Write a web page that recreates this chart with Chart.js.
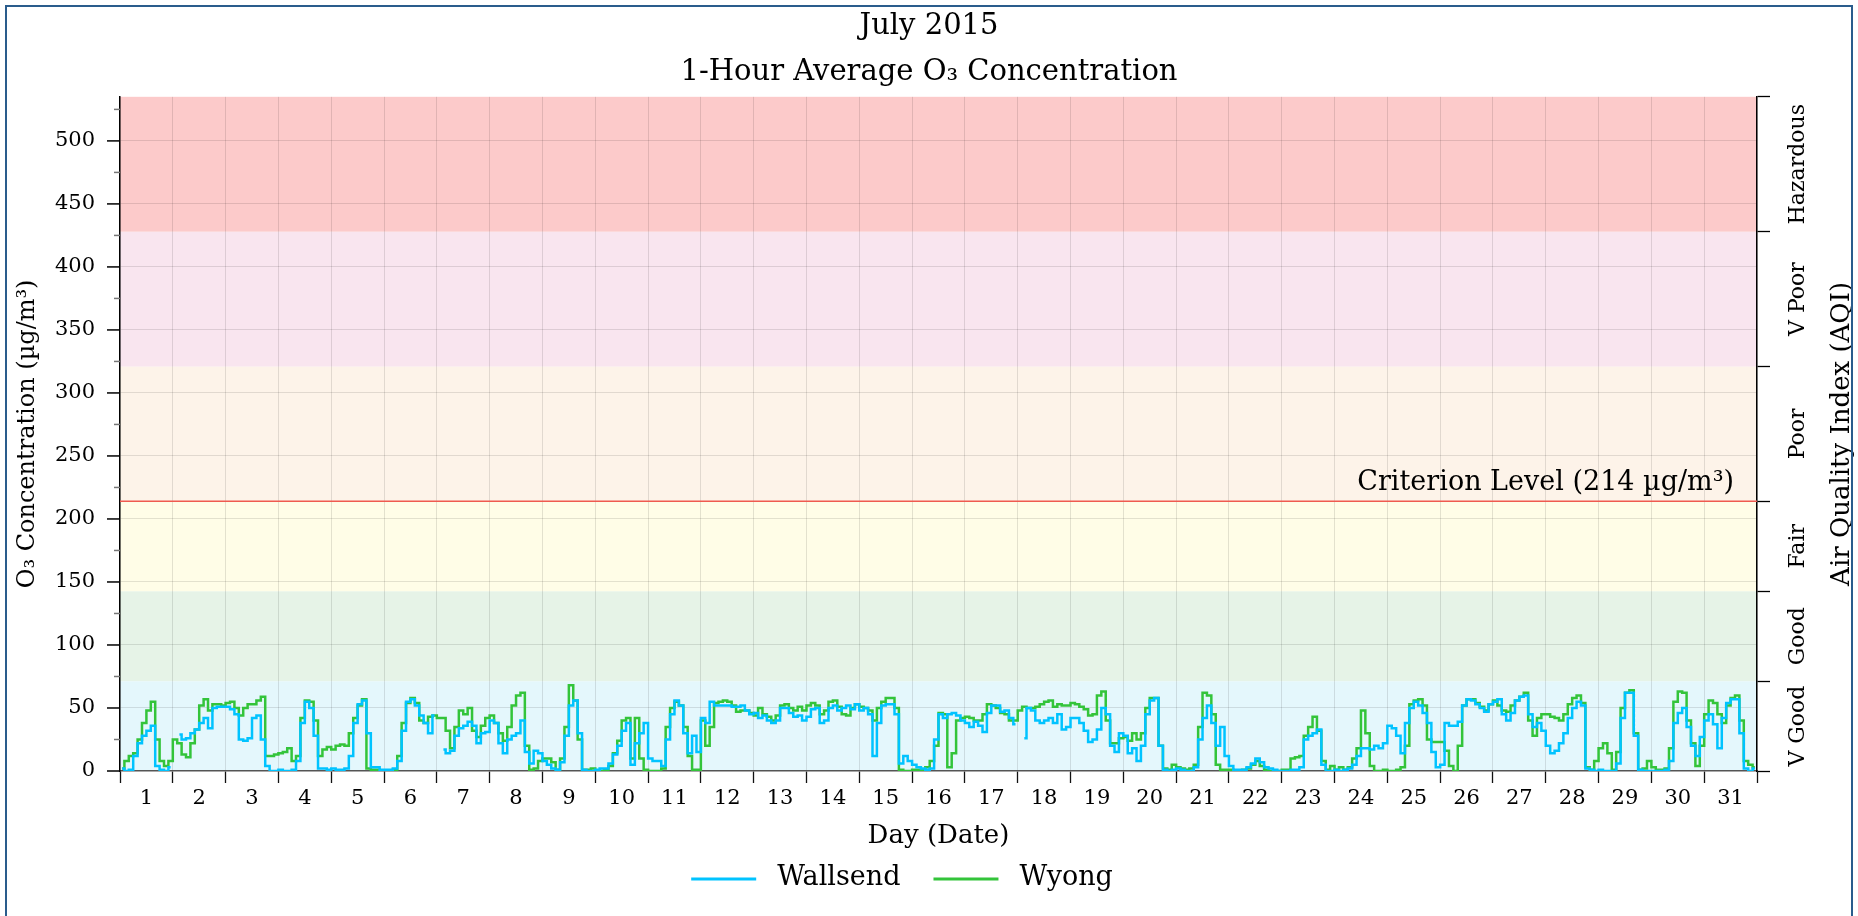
<!DOCTYPE html>
<html>
<head>
<meta charset="utf-8">
<title>July 2015 - 1-Hour Average O3 Concentration</title>
<script src="https://cdn.jsdelivr.net/npm/chart.js@4.4.1/dist/chart.umd.min.js"></script>
<style>
  html, body { margin: 0; padding: 0; background: #fff; overflow: hidden; }
  #wrap { position: relative; width: 1858px; height: 916px; }
  #frame { position: absolute; left: 5px; top: 5px; width: 1848px; height: 940px;
           border: 2px solid #2a5c8c; box-sizing: border-box; pointer-events: none; }
  canvas { display: block; }
</style>
</head>
<body>
<div id="wrap">
  <canvas id="o3Chart" width="1858" height="916"></canvas>
  <div id="frame"></div>
</div>
<script>
/* July 2015 — 1-hour average O3, Wallsend vs Wyong */

// x categories: day of month
const days = [1, 2, 3, 4, 5, 6, 7, 8, 9, 10, 11, 12, 13, 14, 15, 16,
              17, 18, 19, 20, 21, 22, 23, 24, 25, 26, 27, 28, 29, 30, 31];
const slotsPerDay = 12; // one reading per 2-hour block

// left axis ticks (labelled every 50, minor every 25)
const yTicks = [0, 25, 50, 75, 100, 125, 150, 175, 200, 225, 250, 275,
                300, 325, 350, 375, 400, 425, 450, 475, 500, 525];

// AQI bands (µg/m³) and their names
const aqiBounds = [0, 71.3, 142.7, 214, 321, 428, 535];
const aqiLabels = ['V Good', 'Good', 'Fair', 'Poor', 'V Poor', 'Hazardous'];
const criterion = 214;

// Wallsend, one row per day, 2-hour blocks
const wallsend = [
  2, 0, 1, 12, 22, 28, 32, 36, 4, 1, 0, 3,
  null, 29, 25, 26, 30, 33, 38, 42, 34, 50, 51, 51,
  51, 49, 45, 25, 24, 26, 42, 44, 25, 4, 0, 0,
  1, 0, 0, 1, 8, 38, 55, 50, 28, 2, 2, 1,
  2, 1, 1, 2, 12, 38, 53, 56, 30, 3, 3, 1,
  1, 1, 2, 8, 32, 55, 57, 52, 44, 38, 30, 44,
  null, 17, 14, 16, 28, 34, 36, 39, 36, 22, 30, 31,
  40, 38, 22, 14, 25, 28, 30, 40, 15, 6, 16, 14,
  8, 5, 2, 1, 7, 28, 52, 56, 30, 1, 0, 0,
  1, 2, 2, 6, 13, 20, 32, 38, 5, 22, 30, 38,
  10, 8, 8, 4, 25, 45, 56, 52, 30, 14, 28, 15,
  42, 38, 55, 52, 52, 52, 52, 51, 51, 52, 48, 45,
  46, 42, 44, 40, 38, 40, 50, 50, 46, 43, 44, 40,
  43, 49, 50, 38, 40, 50, 52, 48, 50, 52, 49, 53,
  48, 50, 45, 12, 38, 52, 53, 53, 45, 6, 12, 8,
  5, 3, 2, 1, 2, 25, 45, 42, 45, 46, 44, 40,
  38, 35, 39, 36, 31, 46, 52, 52, 47, 48, 42, 37,
  null, 26, 50, 48, 40, 38, 40, 42, 38, 45, 33, 35,
  42, 42, 38, 32, 23, 25, 33, 50, 45, 20, 15, 30,
  28, 14, 18, 8, 20, 45, 56, 58, 20, 1, 0, 1,
  2, 1, 0, 0, 3, 25, 42, 52, 38, 20, 35, 12,
  4, 1, 1, 1, 3, 6, 10, 7, 3, 2, 1, 0,
  0, 0, 1, 1, 3, 25, 28, 30, 33, 5, 0, 0,
  1, 0, 1, 2, 5, 12, 18, 18, 17, 20, 18, 22,
  36, 34, 28, 14, 38, 50, 55, 52, 46, 38, 15, 3,
  5, 38, 36, 36, 39, 52, 57, 56, 53, 50, 47, 53,
  55, 57, 45, 40, 46, 56, 59, 60, 45, 35, 38, 32,
  20, 14, 16, 22, 30, 42, 50, 55, 52, 2, 1, 0,
  1, 0, 0, 0, 6, 42, 62, 62, 28, 1, 0, 0,
  0, 0, 0, 1, 8, 38, 46, 50, 35, 20, 12, 27,
  40, 45, 37, 18, 42, 54, 57, 57, 30, 2, 0, 2
];

// Wyong, one row per day, 2-hour blocks
const wyong = [
  2, 8, 12, 14, 25, 38, 48, 55, 25, 8, 4, 8,
  25, 22, 13, 11, 22, 33, 52, 57, 48, 53, 53, 52,
  54, 55, 50, 44, 50, 53, 53, 56, 59, 12, 12, 13,
  14, 15, 18, 8, 12, 42, 56, 55, 40, 12, 17, 19,
  17, 20, 21, 20, 30, 42, 52, 57, 2, 1, 1, 0,
  0, 0, 1, 12, 38, 54, 58, 54, 40, 38, 43, 44,
  42, 42, 32, 18, 35, 48, 45, 50, 32, 27, 36, 42,
  44, 38, 30, 24, 35, 52, 60, 62, 20, 1, 2, 8,
  10, 10, 7, 1, 10, 35, 68, 56, 25, 1, 1, 2,
  0, 0, 1, 4, 14, 24, 40, 42, 10, 42, 10, 1,
  0, 0, 0, 2, 35, 50, 55, 52, 35, 12, 1, 1,
  40, 20, 35, 54, 55, 56, 55, 52, 47, 48, 48, 46,
  44, 50, 45, 43, 40, 44, 52, 53, 50, 48, 51, 48,
  52, 54, 52, 45, 48, 55, 56, 51, 45, 44, 50, 53,
  51, 50, 48, 40, 50, 55, 58, 58, 50, 1, 0, 0,
  1, 1, 1, 3, 8, 20, 46, 45, 3, 14, 40, 42,
  43, 42, 40, 40, 45, 53, 52, 50, 46, 45, 40, 40,
  48, 51, 50, 50, 51, 53, 55, 56, 51, 53, 52, 52,
  54, 53, 51, 49, 44, 45, 60, 63, 40, 22, 22, 26,
  27, 24, 30, 25, 30, 50, 58, 58, 20, 2, 1, 5,
  3, 2, 1, 2, 5, 35, 62, 60, 45, 5, 1, 1,
  1, 0, 0, 1, 2, 5, 8, 4, 1, 0, 0, 0,
  1, 1, 10, 11, 12, 28, 35, 43, 32, 8, 1, 4,
  1, 3, 1, 3, 10, 18, 48, 30, 4, 0, 0, 1,
  0, 0, 1, 3, 20, 53, 56, 57, 52, 25, 23, 23,
  23, 16, 4, 0, 20, 52, 57, 57, 54, 51, 48, 53,
  56, 52, 48, 47, 52, 56, 59, 62, 40, 28, 42, 45,
  45, 43, 42, 40, 45, 53, 58, 60, 54, 3, 1, 8,
  18, 22, 14, 1, 15, 50, 62, 64, 30, 1, 2, 8,
  3, 1, 1, 2, 18, 55, 63, 62, 40, 22, 4, 20,
  45, 56, 54, 45, 38, 52, 58, 60, 40, 8, 5, 3
];

(function () {
    const FONT = 'DejaVu Serif';
    const gridColor = 'rgba(0, 0, 0, 0.11)';
    const bandColors = ['#e4f7fc', '#e6f3e7', '#fffde7', '#fdf3e9', '#f9e5ef', '#fccaca'];

    Chart.defaults.font.family = FONT;
    Chart.defaults.color = '#000';

    // each block sits at the middle of its 2-hour slot
    function toPoints(values) {
        return values.map(function (v, i) {
            return { x: days[0] + (i + 0.5) / slotsPerDay, y: v };
        });
    }

    const aqiPlugin = {
        id: 'aqiDecor',
        beforeDraw: function (chart) {
            const ctx = chart.ctx;
            const a = chart.chartArea;
            const y = chart.scales.y;
            ctx.save();
            for (let i = 0; i < aqiLabels.length; i++) {
                const top = y.getPixelForValue(aqiBounds[i + 1]);
                const bottom = y.getPixelForValue(aqiBounds[i]);
                ctx.fillStyle = bandColors[i];
                ctx.fillRect(a.left, top, a.right - a.left, bottom - top);
            }
            ctx.restore();
        },
        beforeDatasetsDraw: function (chart) {
            const ctx = chart.ctx;
            const a = chart.chartArea;
            const yc = chart.scales.y.getPixelForValue(criterion);
            ctx.save();
            ctx.strokeStyle = '#ef5a4f';
            ctx.lineWidth = 1.5;
            ctx.beginPath();
            ctx.moveTo(a.left, yc);
            ctx.lineTo(a.right, yc);
            ctx.stroke();
            ctx.fillStyle = '#000';
            ctx.font = '27px "' + FONT + '"';
            ctx.textAlign = 'right';
            ctx.textBaseline = 'alphabetic';
            ctx.fillText('Criterion Level (214 µg/m³)', a.right - 23, yc - 11);
            ctx.restore();
        },
        afterDraw: function (chart) {
            const ctx = chart.ctx;
            const a = chart.chartArea;
            const y = chart.scales.y;
            ctx.save();

            // left axis tick marks, major and minor
            yTicks.forEach(function (v) {
                const py = y.getPixelForValue(v);
                const major = v % 50 === 0;
                ctx.strokeStyle = major ? '#000' : '#777';
                ctx.lineWidth = 1.5;
                ctx.beginPath();
                ctx.moveTo(a.left, py);
                ctx.lineTo(a.left - (major ? 13 : 6), py);
                ctx.stroke();
            });

            // AQI band names on the right
            ctx.fillStyle = '#000';
            ctx.font = '22px "' + FONT + '"';
            ctx.textAlign = 'center';
            ctx.textBaseline = 'middle';
            for (let i = 0; i < aqiLabels.length; i++) {
                const mid = y.getPixelForValue((aqiBounds[i] + aqiBounds[i + 1]) / 2);
                ctx.save();
                ctx.translate(a.right + 41, mid);
                ctx.rotate(-Math.PI / 2);
                ctx.fillText(aqiLabels[i], 0, 0);
                ctx.restore();
            }

            // right axis title
            ctx.font = '26px "' + FONT + '"';
            ctx.save();
            ctx.translate(a.right + 85, (a.top + a.bottom) / 2);
            ctx.rotate(-Math.PI / 2);
            ctx.fillText('Air Quality Index (AQI)', 0, 0);
            ctx.restore();

            // legend
            ctx.font = '27px "' + FONT + '"';
            const sample = 65, gap = 21, between = 33;
            const items = chart.data.datasets.map(function (ds) {
                return { label: ds.label, color: ds.borderColor, w: ctx.measureText(ds.label).width };
            });
            let total = between * (items.length - 1);
            items.forEach(function (it) { total += sample + gap + it.w; });
            let x = 902 - total / 2;
            const ly = 878;
            ctx.textAlign = 'left';
            items.forEach(function (it) {
                ctx.strokeStyle = it.color;
                ctx.lineWidth = 3;
                ctx.beginPath();
                ctx.moveTo(x, ly + 1);
                ctx.lineTo(x + sample, ly + 1);
                ctx.stroke();
                ctx.fillStyle = '#000';
                ctx.fillText(it.label, x + sample + gap, ly);
                x += sample + gap + it.w + between;
            });
            ctx.restore();
        }
    };

    new Chart(document.getElementById('o3Chart'), {
        type: 'line',
        data: {
            datasets: [{
                label: 'Wallsend',
                data: toPoints(wallsend),
                borderColor: '#00c3ff',
                borderWidth: 2.5,
                pointRadius: 0,
                stepped: 'middle',
                spanGaps: false,
            }, {
                label: 'Wyong',
                data: toPoints(wyong),
                borderColor: '#33c43a',
                borderWidth: 2.5,
                pointRadius: 0,
                stepped: 'middle',
                spanGaps: false,
            }],
        },
        options: {
            responsive: false,
            animation: false,
            devicePixelRatio: 1,
            layout: { padding: 0 },
            plugins: {
                legend: { display: false },
                tooltip: { enabled: false },
                title: {
                    display: true,
                    text: ['July 2015', '1-Hour Average O₃ Concentration'],
                    color: '#000',
                    font: { family: FONT, size: 29, weight: 'normal', lineHeight: 1.6 },
                    padding: { top: 3, bottom: 1 },
                },
            },
            scales: {
                x: {
                    type: 'linear',
                    min: 1,
                    max: 32,
                    afterBuildTicks: function (s) {
                        s.ticks = days.map(function (d) { return { value: d + 0.5 }; });
                    },
                    afterFit: function (s) { s.height = 145; },
                    grid: {
                        offset: true,
                        color: gridColor,
                        drawTicks: true,
                        tickLength: 12,
                        tickColor: '#111',
                        tickWidth: 1.3,
                    },
                    border: { color: '#555', width: 1.5 },
                    ticks: {
                        autoSkip: false,
                        maxRotation: 0,
                        padding: 3,
                        font: { size: 21 },
                        callback: function (v) { return String(Math.floor(v)); },
                    },
                    title: {
                        display: true,
                        text: 'Day (Date)',
                        font: { size: 26 },
                        padding: { top: 0, bottom: 64 },
                    },
                },
                y: {
                    min: 0,
                    max: 535,
                    afterBuildTicks: function (s) {
                        s.ticks = yTicks.map(function (v) { return { value: v }; });
                    },
                    afterFit: function (s) { s.width = 120; },
                    grid: {
                        color: function (c) {
                            return c.tick && c.tick.value % 50 === 0 && c.tick.value > 0 ? gridColor : 'transparent';
                        },
                        drawTicks: false,
                    },
                    border: { color: '#000', width: 1.5 },
                    ticks: {
                        padding: 25,
                        font: { size: 21 },
                        callback: function (v) { return v % 50 === 0 ? String(v) : ''; },
                    },
                    title: {
                        display: true,
                        text: 'O₃ Concentration (µg/m³)',
                        font: { size: 24 },
                        padding: { top: 13, bottom: 0 },
                    },
                },
                yR: {
                    position: 'right',
                    min: 0,
                    max: 535,
                    afterBuildTicks: function (s) {
                        s.ticks = aqiBounds.map(function (v) { return { value: v }; });
                    },
                    afterFit: function (s) { s.width = 101; },
                    grid: {
                        drawOnChartArea: false,
                        drawTicks: true,
                        tickLength: 13,
                        tickColor: '#000',
                        tickWidth: 1.3,
                    },
                    border: { color: '#000', width: 1.5 },
                    ticks: { display: false },
                },
            },
        },
        plugins: [aqiPlugin],
    });
})();
</script>
</body>
</html>
